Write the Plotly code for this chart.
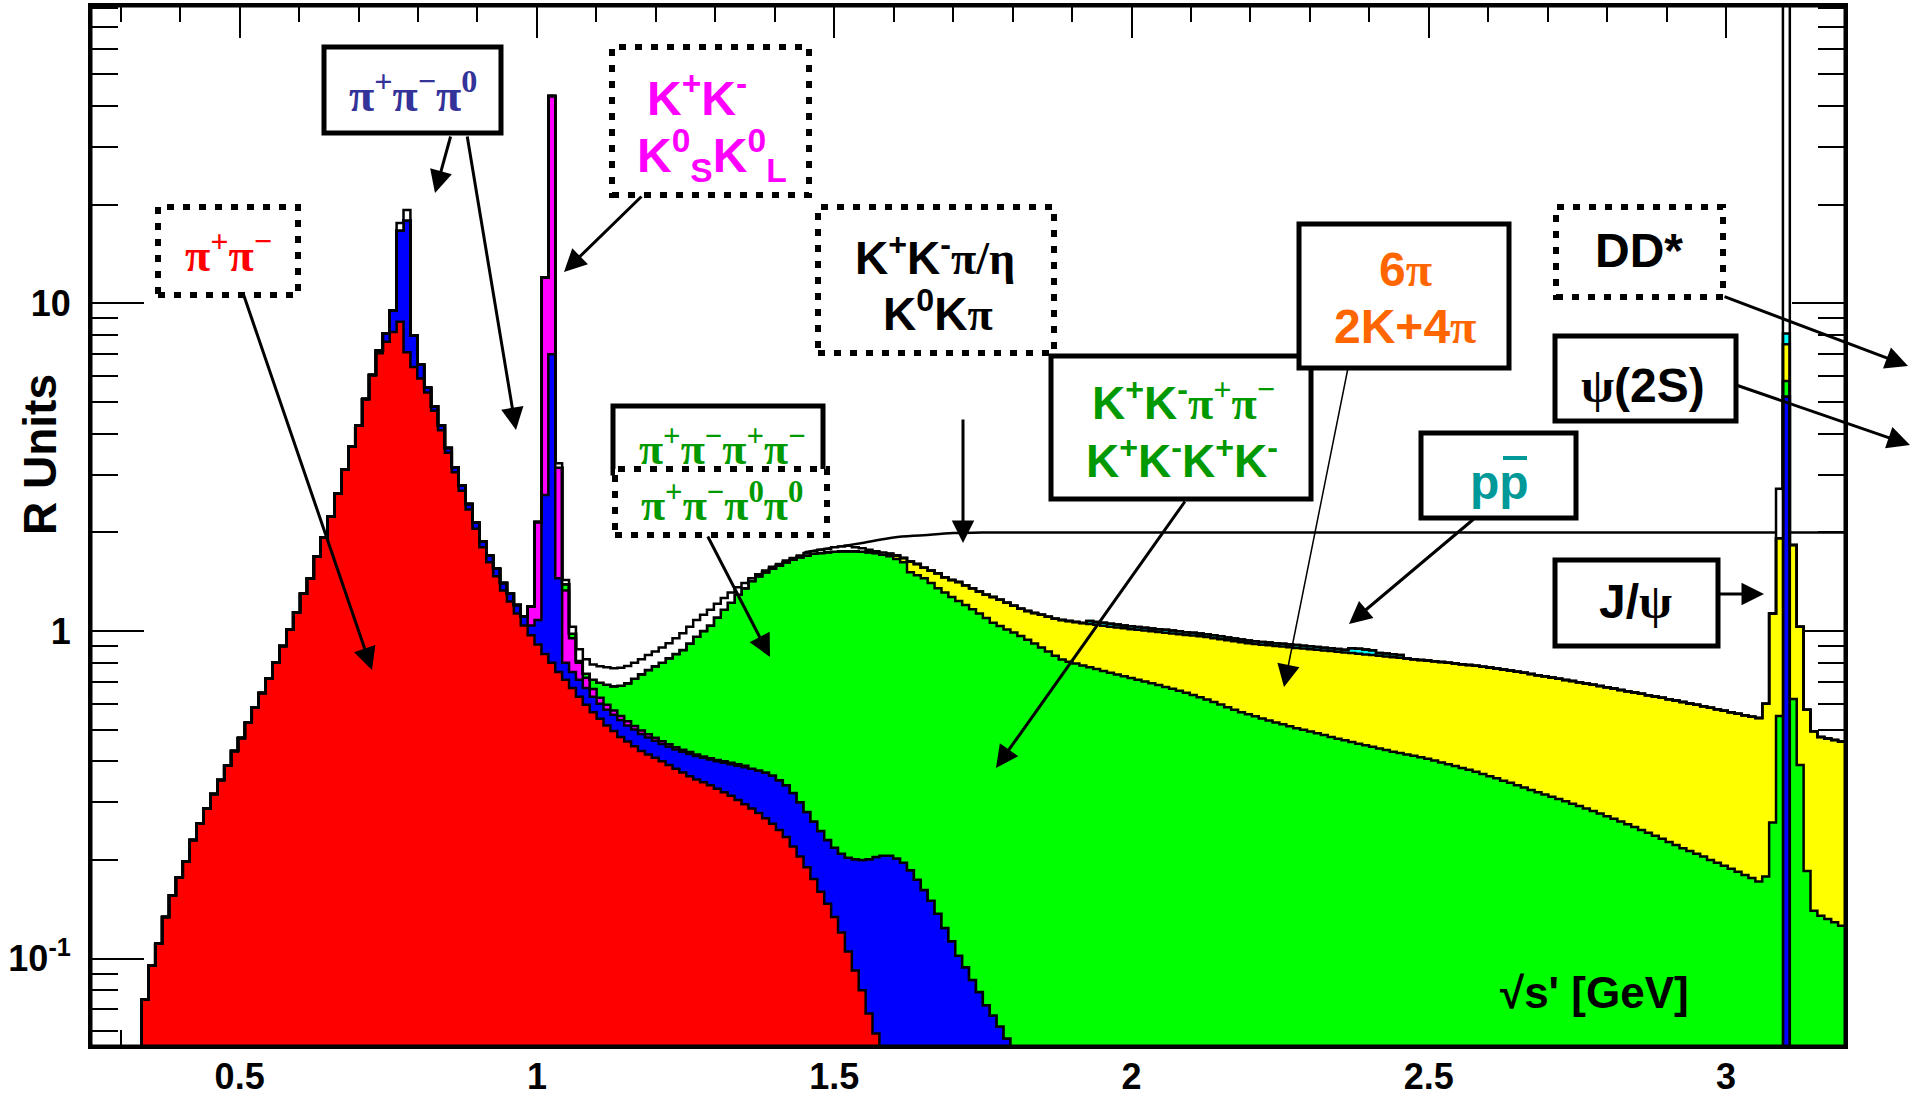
import plotly.graph_objects as go

# ------------------------------------------------------------------ data
bin_width = 0.0116          # GeV, histogram binning
first_edge = 0.30           # GeV, lower edge of first bin
n_bins = 250

# cumulative top of each stacked layer (R units), given from a first bin index
red_first = 3               # pi+ pi-
red_top = [0.075, 0.095, 0.111, 0.134, 0.156, 0.177, 0.198, 0.230, 0.258, 0.287,
           0.318, 0.351, 0.388, 0.430, 0.471, 0.525, 0.585, 0.647, 0.716, 0.800,
           0.90, 1.01, 1.14, 1.30, 1.45, 1.69, 1.93, 2.24, 2.63, 3.11,
           3.66, 4.24, 5.11, 6.05, 7.04, 7.64, 8.18, 8.79, 7.10, 6.40,
           5.90, 5.35, 4.70, 4.10, 3.50, 3.05, 2.68, 2.35, 2.05, 1.80,
           1.62, 1.47, 1.33, 1.23, 1.13, 1.04, 0.97, 0.91, 0.85, 0.80,
           0.75, 0.71, 0.67, 0.63, 0.595, 0.565, 0.54, 0.515, 0.495, 0.475,
           0.46, 0.445, 0.43, 0.42, 0.41, 0.40, 0.39, 0.38, 0.37, 0.36,
           0.352, 0.345, 0.338, 0.33, 0.322, 0.314, 0.305, 0.296, 0.287, 0.278,
           0.268, 0.258, 0.247, 0.235, 0.22, 0.205, 0.19, 0.175, 0.16, 0.147,
           0.134, 0.12, 0.105, 0.092, 0.08, 0.068, 0.059, 0.048]

blue_first = 37             # + pi+ pi- pi0
blue_top = [7.19, 8.11, 9.53, 16.7, 17.9, 8.0, 6.5, 5.53,
            4.85, 4.25, 3.62, 3.16, 2.78, 2.44, 2.14, 1.88, 1.70, 1.55,
            1.40, 1.30, 1.20, 1.11, 1.04, 1.08, 2.6, 7.0, 1.45, 0.80,
            0.75, 0.71, 0.67, 0.63, 0.60, 0.575, 0.555, 0.535, 0.515, 0.50,
            0.485, 0.473, 0.462, 0.452, 0.443, 0.435, 0.428, 0.421, 0.415, 0.41,
            0.405, 0.40, 0.396, 0.392, 0.388, 0.384, 0.38, 0.375, 0.37, 0.362,
            0.35, 0.338, 0.32, 0.30, 0.28, 0.262, 0.245, 0.23, 0.218, 0.209,
            0.203, 0.201, 0.200, 0.201, 0.204, 0.206, 0.206, 0.202, 0.196, 0.186,
            0.174, 0.162, 0.15, 0.137, 0.124, 0.113, 0.102, 0.094, 0.086, 0.079,
            0.072, 0.067, 0.062, 0.057, 0.052]
blue_jpsi_first = 241
blue_jpsi_top = [5.2]

magenta_first = 59          # + K+K-, KsKl
magenta_top = [1.19, 2.15, 12.0, 43.0, 3.15, 1.33, 0.95, 0.80, 0.72, 0.665,
               0.625, 0.595, 0.572, 0.55, 0.53, 0.513, 0.497, 0.484, 0.472, 0.461,
               0.451, 0.442, 0.434, 0.427, 0.42, 0.414, 0.409, 0.404, 0.40, 0.396,
               0.392, 0.388]

green_first = 64            # + 4pi, KK pi pi, KKKK
green_top = [1.39, 0.98, 0.81, 0.74, 0.71, 0.695, 0.685, 0.678, 0.68, 0.693,
             0.715, 0.738, 0.76, 0.78, 0.80, 0.826, 0.85, 0.875, 0.915, 0.961,
             1.0, 1.04, 1.10, 1.16, 1.22, 1.29, 1.35, 1.42, 1.47, 1.51,
             1.55, 1.585, 1.62, 1.65, 1.68, 1.70, 1.72, 1.73, 1.74, 1.745,
             1.75, 1.75, 1.75, 1.745, 1.74, 1.73, 1.71, 1.69, 1.66, 1.62,
             1.51, 1.48, 1.45, 1.40, 1.35, 1.31, 1.27, 1.235, 1.20, 1.165,
             1.13, 1.095, 1.06, 1.035, 1.01, 0.99, 0.965, 0.94, 0.915, 0.89,
             0.865, 0.84, 0.818, 0.805, 0.795, 0.785, 0.775, 0.765, 0.755, 0.745,
             0.736, 0.727, 0.718, 0.71, 0.701, 0.692, 0.684, 0.675, 0.666, 0.657,
             0.648, 0.638, 0.628, 0.618, 0.607, 0.596, 0.585, 0.575, 0.565, 0.557,
             0.549, 0.541, 0.533, 0.526, 0.519, 0.512, 0.505, 0.499, 0.493, 0.487,
             0.481, 0.475, 0.469, 0.464, 0.458, 0.453, 0.448, 0.443, 0.438, 0.433,
             0.428, 0.424, 0.42, 0.416, 0.412, 0.407, 0.402, 0.397, 0.392, 0.387,
             0.382, 0.377, 0.372, 0.366, 0.36, 0.355, 0.349, 0.344, 0.338, 0.333,
             0.327, 0.322, 0.317, 0.312, 0.307, 0.302, 0.297, 0.292, 0.287, 0.282,
             0.277, 0.272, 0.267, 0.262, 0.257, 0.252, 0.247, 0.242, 0.237, 0.232,
             0.227, 0.222, 0.217, 0.213, 0.209, 0.205, 0.20, 0.196, 0.192, 0.188,
             0.184, 0.18, 0.176, 0.172, 0.178, 0.26, 0.55, 5.8, 0.62, 0.39,
             0.185, 0.14, 0.135, 0.132, 0.129, 0.126]

yellow_first = 111          # + 6pi, 2K+4pi
yellow_top = [1.72, 1.70, 1.67, 1.63, 1.60, 1.56, 1.53, 1.50, 1.46, 1.43,
              1.41, 1.38, 1.35, 1.32, 1.29, 1.27, 1.245, 1.22, 1.195, 1.17,
              1.15, 1.135, 1.12, 1.105, 1.09, 1.08, 1.072, 1.065, 1.058, 1.051,
              1.045, 1.038, 1.031, 1.025, 1.019, 1.013, 1.008, 1.003, 0.998, 0.993,
              0.988, 0.983, 0.978, 0.973, 0.968, 0.963, 0.958, 0.951, 0.944, 0.937,
              0.930, 0.924, 0.918, 0.913, 0.908, 0.904, 0.900, 0.896, 0.892, 0.888,
              0.884, 0.880, 0.876, 0.872, 0.868, 0.864, 0.860, 0.856, 0.852, 0.848,
              0.844, 0.840, 0.836, 0.832, 0.828, 0.824, 0.82, 0.816, 0.812, 0.808,
              0.804, 0.80, 0.796, 0.792, 0.788, 0.783, 0.778, 0.773, 0.768, 0.763,
              0.757, 0.751, 0.745, 0.739, 0.733, 0.727, 0.721, 0.715, 0.709, 0.703,
              0.697, 0.691, 0.685, 0.679, 0.673, 0.667, 0.661, 0.655, 0.649, 0.643,
              0.637, 0.631, 0.625, 0.619, 0.613, 0.607, 0.601, 0.595, 0.589, 0.583,
              0.577, 0.571, 0.565, 0.559, 0.553, 0.547, 0.542, 0.60, 1.13, 1.92,
              7.5, 1.83, 1.03, 0.575, 0.494, 0.475, 0.47, 0.465, 0.46]

cyan_first = 140            # + p pbar
cyan_top = [1.072, 1.066, 1.059, 1.052, 1.046, 1.039, 1.033, 1.028, 1.023, 1.018,
            1.013, 1.008, 1.003, 0.998, 0.992, 0.987, 0.982, 0.977, 0.970, 0.963,
            0.956, 0.949, 0.942, 0.936, 0.931, 0.926, 0.922, 0.918, 0.914, 0.910,
            0.906, 0.902, 0.898, 0.894, 0.889, 0.885, 0.881, 0.877, 0.886, 0.882,
            0.878, 0.874, 0.857, 0.853, 0.849, 0.845]
cyan_jpsi_first = 241
cyan_jpsi_top = [8.1]

white_omega_first = 40      # + remaining channels (white)
white_omega_top = [17.6, 19.3]
white_first = 63
white_top = [3.25, 1.43, 1.03, 0.88, 0.82, 0.79, 0.78, 0.775, 0.77, 0.772,
             0.782, 0.80, 0.82, 0.845, 0.865, 0.89, 0.917, 0.95, 0.984, 1.03,
             1.08, 1.12, 1.16, 1.21, 1.26, 1.31, 1.36, 1.40, 1.45, 1.49,
             1.53, 1.57, 1.60, 1.64, 1.67, 1.70, 1.73, 1.75, 1.77, 1.78,
             1.80, 1.81, 1.82, 1.80, 1.79, 1.77, 1.75, 1.735]
white_jpsi_first = 240
white_jpsi_top = [2.72, 1000.0]

# smooth continuum curve reaching R = 2
r_curve_x = [1.45, 1.50, 1.55, 1.60, 1.65, 1.70, 1.75, 3.20]
r_curve_y = [1.74, 1.80, 1.86, 1.93, 1.96, 1.99, 2.00, 2.00]

x_tick_vals = [0.5, 1.0, 1.5, 2.0, 2.5, 3.0]
x_tick_text = ["0.5", "1", "1.5", "2", "2.5", "3"]
y_tick_vals = [0.1, 1, 10]
y_tick_text = ["10<sup>-1</sup>", "1", "10"]
y_minor_vals = [0.06, 0.07, 0.08, 0.09, 0.2, 0.3, 0.4, 0.5, 0.6, 0.7, 0.8, 0.9,
                2, 3, 4, 5, 6, 7, 8, 9, 20, 30, 40, 50, 60, 70, 80]

# ------------------------------------------------------------------ build stack
floor = 1e-4
edges = [first_edge + i * bin_width for i in range(n_bins + 1)]


def stack(below, *segments):
    out = list(below)
    for first, vals in segments:
        for i, v in enumerate(vals):
            if 0 <= first + i < n_bins:
                out[first + i] = max(v, out[first + i])
    return out


lvl_base = [floor] * n_bins
lvl_red = stack(lvl_base, (red_first, red_top))
lvl_blue = stack(lvl_red, (blue_first, blue_top), (blue_jpsi_first, blue_jpsi_top))
lvl_mag = stack(lvl_blue, (magenta_first, magenta_top))
lvl_green = stack(lvl_mag, (green_first, green_top))
lvl_yellow = stack(lvl_green, (yellow_first, yellow_top))
lvl_cyan = stack(lvl_yellow, (cyan_first, cyan_top), (cyan_jpsi_first, cyan_jpsi_top))
lvl_white = stack(lvl_cyan, (white_omega_first, white_omega_top),
                  (white_first, white_top), (white_jpsi_first, white_jpsi_top))

fig = go.Figure()

# continuum line first (drawn beneath the stacked fills)
fig.add_trace(go.Scatter(x=r_curve_x, y=r_curve_y, mode="lines",
                         line=dict(color="black", width=2.5, shape="spline"),
                         hoverinfo="skip", showlegend=False))

fig.add_trace(go.Scatter(x=edges, y=lvl_base + [lvl_base[-1]], mode="lines",
                         line=dict(width=0, shape="hv"), hoverinfo="skip",
                         showlegend=False))
layers = [(lvl_red, "#ff0000"), (lvl_blue, "#0000ff"), (lvl_mag, "#ff00ff"),
          (lvl_green, "#00ff00"), (lvl_yellow, "#ffff00"), (lvl_cyan, "#00ffff"),
          (lvl_white, "#ffffff")]
for vals, col in layers:
    fig.add_trace(go.Scatter(x=edges, y=vals + [vals[-1]], mode="lines",
                             line=dict(color="black", width=2.5, shape="hv"),
                             fill="tonexty", fillcolor=col,
                             hoverinfo="skip", showlegend=False))

# ------------------------------------------------------------------ layout helpers
W, H = 1916, 1099
PL, PR, PT, PB = 91, 1845, 6, 1046


def px(X):
    return (X - PL) / (PR - PL)


def py(Y):
    return (PB - Y) / (PB - PT)


SANS = "Liberation Sans"
SERIF = "Liberation Serif"


def gk(s):
    return f"<span style='font-family:{SERIF}'>{s}</span>"


DOT = "7px,9px"
boxes = [  # x0, y0, x1, y1, dotted?
    (158, 207, 298, 295, True),     # pi+pi-
    (324, 47, 501, 133, False),     # pi+pi-pi0
    (612, 47, 809, 195, True),      # K+K- / KsKl
    (818, 207, 1054, 353, True),    # KK pi/eta
    (613, 406, 823, 473, False),    # 4 pi charged
    (615, 469, 827, 535, True),     # pi+pi-pi0pi0
    (1051, 356, 1311, 499, False),  # KK pi pi, KKKK
    (1299, 224, 1509, 368, False),  # 6 pi
    (1421, 433, 1576, 518, False),  # p pbar
    (1556, 207, 1723, 297, True),   # DD*
    (1555, 336, 1736, 421, False),  # psi(2S)
    (1555, 560, 1718, 646, False),  # J/psi
]
shapes = []
# plot frame drawn above the histograms (ticks stay beneath the fills)
shapes.append(dict(type="rect", xref="paper", yref="paper", x0=0, x1=1, y0=0, y1=1,
                   line=dict(color="black", width=3), fillcolor="rgba(0,0,0,0)",
                   layer="above"))
for x0, y0, x1, y1, dotted in boxes:
    shapes.append(dict(type="rect", xref="paper", yref="paper",
                       x0=px(x0), x1=px(x1), y0=py(y1), y1=py(y0),
                       line=dict(color="black", width=6 if dotted else 5,
                                 dash=DOT if dotted else "solid"),
                       fillcolor="white", layer="above"))
# overline of p-bar
shapes.append(dict(type="line", xref="paper", yref="paper",
                   x0=px(1503), x1=px(1527), y0=py(458), y1=py(458),
                   line=dict(color="#009999", width=4), layer="above"))

GREEN_T = "#009900"
texts = [  # text, x, y, colour, size, family
    ("π<sup>+</sup>π<sup>−</sup>", 228, 252, "#ff0000", 46, SERIF),
    ("π<sup>+</sup>π<sup>−</sup>π<sup>0</sup>", 413, 92, "#333399", 46, SERIF),
    ("K<sup>+</sup>K<sup>-</sup>", 697, 95, "#ff00ff", 48, SANS),
    ("K<sup>0</sup><sub>S</sub>K<sup>0</sup><sub>L</sub>", 712, 155, "#ff00ff", 48, SANS),
    ("K<sup>+</sup>K<sup>-</sup>" + gk("π/η"), 935, 255, "black", 46, SANS),
    ("K<sup>0</sup>K" + gk("π"), 938, 311, "black", 46, SANS),
    ("π<sup>+</sup>π<sup>−</sup>π<sup>+</sup>π<sup>−</sup>", 722, 446, GREEN_T, 44, SERIF),
    ("π<sup>+</sup>π<sup>−</sup>π<sup>0</sup>π<sup>0</sup>", 722, 503, GREEN_T, 44, SERIF),
    ("K<sup>+</sup>K<sup>-</sup>" + gk("π<sup>+</sup>π<sup>−</sup>"), 1183, 400, GREEN_T, 46, SANS),
    ("K<sup>+</sup>K<sup>-</sup>K<sup>+</sup>K<sup>-</sup>", 1182, 458, GREEN_T, 46, SANS),
    ("6" + gk("π"), 1405, 269, "#ff6600", 48, SANS),
    ("2K+4" + gk("π"), 1405, 326, "#ff6600", 48, SANS),
    ("pp", 1499, 482, "#009999", 48, SANS),
    ("DD*", 1639, 250, "black", 48, SANS),
    (gk("ψ") + "(2S)", 1643, 385, "black", 48, SANS),
    ("J/" + gk("ψ"), 1635, 601, "black", 48, SANS),
    ("√s' [GeV]", 1594, 992, "black", 44, SANS),
]
annotations = []
for t, X, Y, col, size, fam in texts:
    annotations.append(dict(text=t, x=px(X), y=py(Y), xref="paper", yref="paper",
                            xanchor="center", yanchor="middle", showarrow=False,
                            font=dict(family=fam, size=size, color=col, weight="bold")))
annotations.append(dict(text="R Units", x=px(40), y=py(455), xref="paper", yref="paper",
                        xanchor="center", yanchor="middle", showarrow=False, textangle=-90,
                        font=dict(family=SANS, size=46, color="black", weight="bold")))

arrows = [  # tail x, tail y, head x, head y, width, head size
    (243, 293, 372, 670, 3, 1.5),
    (451, 135, 435, 193, 3, 1.5),
    (467, 135, 516, 430, 3, 1.5),
    (643, 195, 564, 272, 3, 1.5),
    (963, 418, 963, 543, 3, 1.5),
    (707, 535, 770, 657, 3, 1.5),
    (1186, 500, 996, 768, 3, 1.5),
    (1348, 368, 1284, 687, 1.5, 3.0),
    (1475, 518, 1349, 624, 3, 1.5),
    (1723, 296, 1908, 366, 3, 1.5),
    (1736, 385, 1910, 445, 3, 1.5),
    (1718, 594, 1764, 594, 3, 1.5),
]
for tx, ty, hx, hy, w, hs in arrows:
    annotations.append(dict(text="", x=px(hx), y=py(hy), xref="paper", yref="paper",
                            ax=tx - hx, ay=ty - hy, axref="pixel", ayref="pixel",
                            showarrow=True, arrowhead=2, arrowsize=hs, arrowwidth=w,
                            arrowcolor="black", standoff=0, startstandoff=0))

tickfont = dict(family=SANS, size=36, color="black", weight="bold")
fig.update_layout(
    width=W, height=H,
    margin=dict(l=PL, r=W - PR, t=PT, b=H - PB, autoexpand=False),
    paper_bgcolor="white", plot_bgcolor="white",
    showlegend=False,
    shapes=shapes, annotations=annotations,
    xaxis=dict(range=[0.25, 3.2], showgrid=False, zeroline=False, automargin=False,
               showline=True, linecolor="black", linewidth=3, mirror="allticks",
               layer="below traces",
               ticks="inside", ticklen=32, tickwidth=2, tickcolor="black",
               tickmode="array", tickvals=x_tick_vals, ticktext=x_tick_text,
               tickfont=tickfont, ticklabelstandoff=-3,
               minor=dict(ticks="inside", ticklen=16, tickwidth=2, tickcolor="black",
                          tick0=0, dtick=0.1, showgrid=False)),
    yaxis=dict(type="log", range=[-1.267, 1.908], showgrid=False, zeroline=False,
               automargin=False, layer="below traces",
               showline=True, linecolor="black", linewidth=3, mirror="allticks",
               ticks="inside", ticklen=53, tickwidth=2, tickcolor="black",
               tickmode="array", tickvals=y_tick_vals, ticktext=y_tick_text,
               tickfont=tickfont, ticklabelstandoff=10,
               minor=dict(ticks="inside", ticklen=27, tickwidth=2, tickcolor="black",
                          tickmode="array", tickvals=y_minor_vals, showgrid=False)),
)

fig.write_html("out.html")
